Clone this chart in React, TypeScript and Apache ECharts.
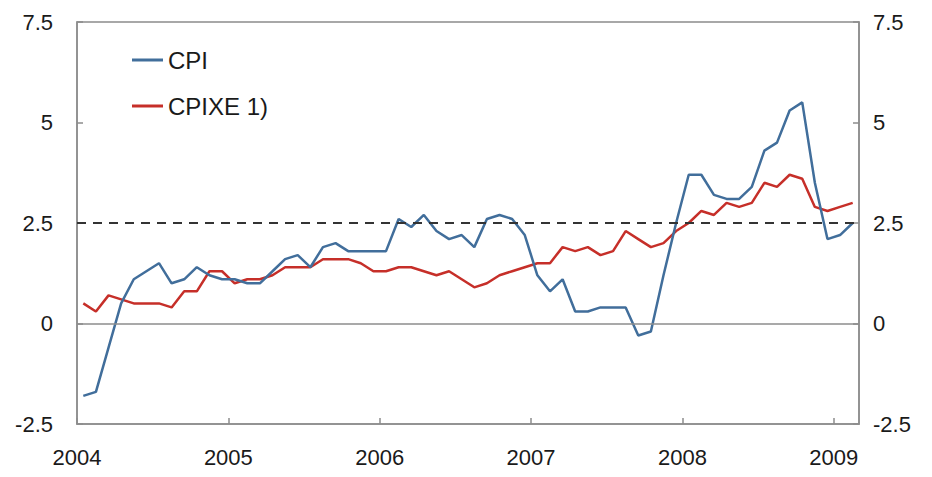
import React, { useEffect, useRef } from "react";
import * as echarts from "echarts";

// Monthly data, Jan 2004 – Feb 2009 (12-month change, per cent)
const cpi = [
  -1.8, -1.7, -0.6, 0.5, 1.1, 1.3, 1.5, 1.0, 1.1, 1.4, 1.2, 1.1,
  1.1, 1.0, 1.0, 1.3, 1.6, 1.7, 1.4, 1.9, 2.0, 1.8, 1.8, 1.8,
  1.8, 2.6, 2.4, 2.7, 2.3, 2.1, 2.2, 1.9, 2.6, 2.7, 2.6, 2.2,
  1.2, 0.8, 1.1, 0.3, 0.3, 0.4, 0.4, 0.4, -0.3, -0.2, 1.2, 2.5,
  3.7, 3.7, 3.2, 3.1, 3.1, 3.4, 4.3, 4.5, 5.3, 5.5, 3.5, 2.1,
  2.2, 2.5,
];
const cpixe = [
  0.5, 0.3, 0.7, 0.6, 0.5, 0.5, 0.5, 0.4, 0.8, 0.8, 1.3, 1.3,
  1.0, 1.1, 1.1, 1.2, 1.4, 1.4, 1.4, 1.6, 1.6, 1.6, 1.5, 1.3,
  1.3, 1.4, 1.4, 1.3, 1.2, 1.3, 1.1, 0.9, 1.0, 1.2, 1.3, 1.4,
  1.5, 1.5, 1.9, 1.8, 1.9, 1.7, 1.8, 2.3, 2.1, 1.9, 2.0, 2.3,
  2.5, 2.8, 2.7, 3.0, 2.9, 3.0, 3.5, 3.4, 3.7, 3.6, 2.9, 2.8,
  2.9, 3.0,
];
const yearLabels = ["2004", "2005", "2006", "2007", "2008", "2009"];
const seriesNames = ["CPI", "CPIXE 1)"];
const targetLevel = 2.5;

const FONT = '"Liberation Sans", Arial, sans-serif';
const AXIS_GREY = "#8c8c8c";
const TEXT = "#1a1a1a";

export default function App() {
  const ref = useRef<HTMLDivElement>(null);

  useEffect(() => {
    if (!ref.current) return;
    const chart = echarts.init(ref.current, undefined, { renderer: "svg" });
    const toPairs = (arr: number[]) => arr.map((v, i) => [i + 0.5, v]);
    const yearTicks = yearLabels.map((_, k) => k * 12);

    const yAxisBase = {
      type: "value" as const,
      min: -2.5,
      max: 7.5,
      interval: 2.5,
      splitLine: { show: false },
      axisLine: { show: true, lineStyle: { color: AXIS_GREY, width: 1.5 } },
      axisTick: { show: true, inside: true, length: 6, lineStyle: { color: AXIS_GREY, width: 1.5 } },
    };

    chart.setOption({
      animation: false,
      backgroundColor: "#ffffff",
      textStyle: { fontFamily: FONT },
      grid: {
        left: 77,
        right: 73,
        top: 22,
        bottom: 53,
        show: true,
        borderColor: AXIS_GREY,
        borderWidth: 1.5,
        backgroundColor: "transparent",
      },
      legend: {
        orient: "vertical",
        left: 132,
        top: 48,
        padding: 0,
        icon: "rect",
        itemWidth: 31,
        itemHeight: 3,
        itemGap: 22,
        textStyle: { fontSize: 24, lineHeight: 24, color: TEXT, fontFamily: FONT },
        data: seriesNames,
      },
      xAxis: {
        type: "value",
        min: 0,
        max: 62,
        splitLine: { show: false },
        axisLine: { show: true, onZero: false, lineStyle: { color: AXIS_GREY, width: 1.5 } },
        axisTick: {
          show: true,
          inside: true,
          length: 6,
          customValues: yearTicks,
          lineStyle: { color: AXIS_GREY, width: 1.5 },
        },
        axisLabel: {
          customValues: yearTicks,
          margin: 22,
          fontSize: 22,
          color: TEXT,
          fontFamily: FONT,
          formatter: (v: number) => yearLabels[Math.round(v / 12)] ?? "",
        },
      },
      yAxis: [
        {
          ...yAxisBase,
          position: "left",
          axisLabel: { margin: 24, fontSize: 22, color: TEXT, fontFamily: FONT, formatter: (v: number) => String(v) },
        },
        {
          ...yAxisBase,
          position: "right",
          axisLabel: { margin: 14, fontSize: 22, color: TEXT, fontFamily: FONT, formatter: (v: number) => String(v) },
        },
      ],
      series: [
        {
          name: seriesNames[1],
          type: "line",
          data: toPairs(cpixe),
          showSymbol: false,
          symbol: "none",
          color: "#c62f29",
          lineStyle: { width: 2.5, color: "#c62f29" },
          z: 3,
          markLine: {
            silent: true,
            symbol: ["none", "none"],
            label: { show: false },
            data: [{ yAxis: 0 }],
            lineStyle: { color: AXIS_GREY, width: 1.5, type: "solid" },
          },
        },
        {
          name: seriesNames[0],
          type: "line",
          data: toPairs(cpi),
          showSymbol: false,
          symbol: "none",
          color: "#416e9b",
          lineStyle: { width: 2.5, color: "#416e9b" },
          z: 4,
          markLine: {
            silent: true,
            symbol: ["none", "none"],
            label: { show: false },
            data: [{ yAxis: targetLevel }],
            lineStyle: { color: "#333333", width: 2, type: [9, 7] },
          },
        },
      ],
    });

    return () => chart.dispose();
  }, []);

  return (
    <div
      ref={ref}
      style={{ position: "fixed", left: 0, top: 0, width: 932, height: 477, background: "#fff" }}
    />
  );
}
